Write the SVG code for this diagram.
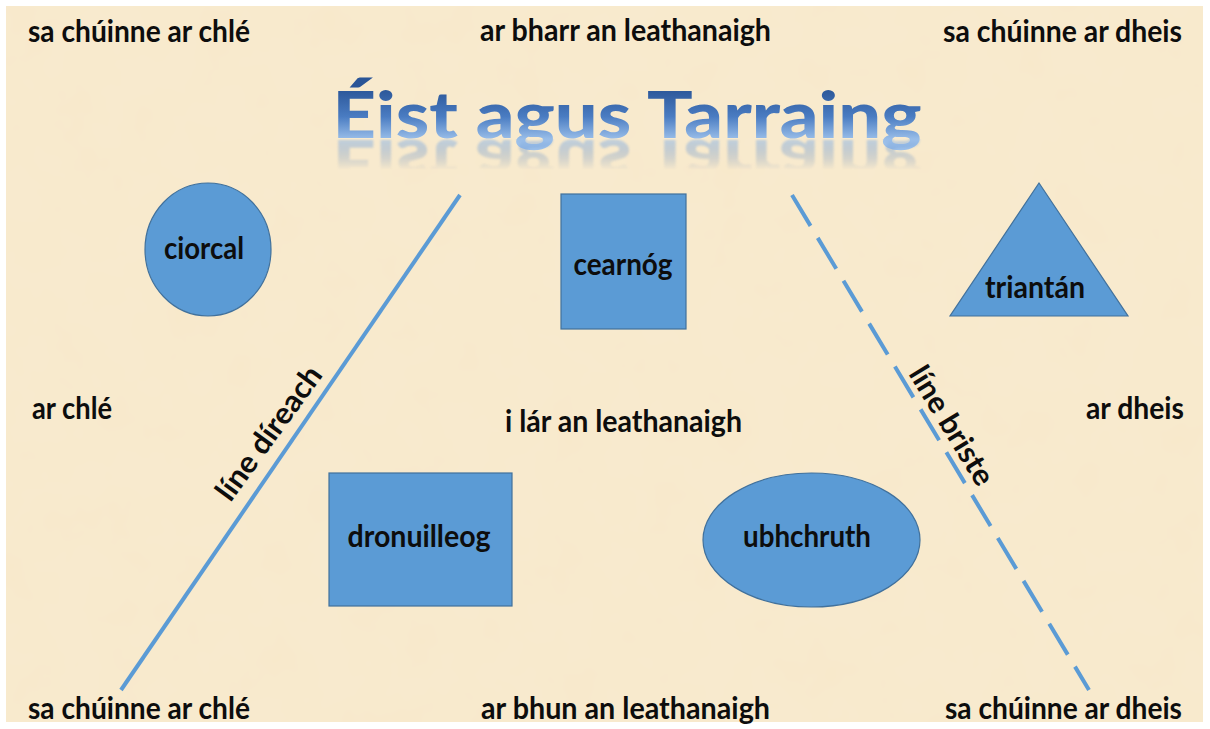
<svg xmlns="http://www.w3.org/2000/svg" xmlns:xlink="http://www.w3.org/1999/xlink" width="1210" height="729" viewBox="0 0 1210 729">
<style>
  .lbl { font-family: Lato, "Open Sans", "Liberation Sans", sans-serif; font-weight: 700; font-size: 30px; fill: #0d0d0d; }
  .shape { fill: #5b9bd5; stroke: #41719c; stroke-width: 1.2; }
  .line { stroke: #5b9bd5; stroke-width: 4; fill: none; }
  .title { font-family: Lato, "Open Sans", "Liberation Sans", sans-serif; font-weight: 900; font-size: 64px; }
</style>
<defs>
  <linearGradient id="titleGrad" gradientUnits="userSpaceOnUse" x1="0" y1="88" x2="0" y2="140">
    <stop offset="0" stop-color="#2a5597"/>
    <stop offset="0.55" stop-color="#4a7cc2"/>
    <stop offset="1" stop-color="#9cc0ea"/>
  </linearGradient>
  <linearGradient id="reflGrad" gradientUnits="userSpaceOnUse" x1="0" y1="138" x2="0" y2="170">
    <stop offset="0" stop-color="#fff" stop-opacity="0.6"/>
    <stop offset="1" stop-color="#fff" stop-opacity="0"/>
  </linearGradient>
  <mask id="reflMask" maskUnits="userSpaceOnUse" x="0" y="0" width="1210" height="729">
    <rect x="0" y="139" width="1210" height="40" fill="url(#reflGrad)"/>
  </mask>
  <filter id="blur1"><feGaussianBlur stdDeviation="1"/></filter>
  <filter id="paper" x="0" y="0" width="100%" height="100%">
    <feTurbulence type="fractalNoise" baseFrequency="0.02" numOctaves="3" seed="4" result="n"/>
    <feColorMatrix in="n" type="matrix" values="0 0 0 0 0.93  0 0 0 0 0.84  0 0 0 0 0.68  0 0 0 0.35 0" result="c"/>
    <feComposite in="c" in2="SourceGraphic" operator="atop"/>
  </filter>
</defs>
<rect x="0" y="0" width="1210" height="729" fill="#ffffff"/>
<rect x="6" y="6" width="1197" height="716" fill="#f8e9cb" filter="url(#paper)"/>

<g id="title-group">
  <text id="title" class="title" x="627" y="138" text-anchor="middle" textLength="589" lengthAdjust="spacingAndGlyphs" fill="url(#titleGrad)">Éist agus Tarraing</text>
  <g mask="url(#reflMask)">
    <use xlink:href="#title" href="#title" transform="translate(0,278) scale(1,-1)" filter="url(#blur1)"/>
  </g>
</g>

<g id="connectors">
  <line class="line" x1="460" y1="195" x2="121" y2="690"/>
  <line class="line" x1="792" y1="195" x2="1089" y2="690" stroke-dasharray="36 14"/>
</g>

<g id="line-direach-label">
  <text class="lbl" transform="translate(277,439) rotate(-54)" text-anchor="middle" textLength="158" lengthAdjust="spacingAndGlyphs">líne díreach</text>
</g>
<g id="line-briste-label">
  <text class="lbl" transform="translate(943,431) rotate(58.5)" text-anchor="middle" textLength="134" lengthAdjust="spacingAndGlyphs">líne briste</text>
</g>

<g id="ciorcal">
  <ellipse class="shape" cx="208" cy="249.5" rx="63" ry="66.5"/>
  <text class="lbl" x="204" y="259" text-anchor="middle" textLength="80" lengthAdjust="spacingAndGlyphs">ciorcal</text>
</g>
<g id="cearnog">
  <rect class="shape" x="561" y="194" width="125" height="135"/>
  <text class="lbl" x="623" y="275" text-anchor="middle" textLength="99" lengthAdjust="spacingAndGlyphs">cearnóg</text>
</g>
<g id="triantan">
  <polygon class="shape" points="1039,183 1128,316 950,316"/>
  <text class="lbl" x="1035" y="298" text-anchor="middle" textLength="100" lengthAdjust="spacingAndGlyphs">triantán</text>
</g>
<g id="dronuilleog">
  <rect class="shape" x="329" y="473" width="183" height="133"/>
  <text class="lbl" x="419" y="547" text-anchor="middle" textLength="143" lengthAdjust="spacingAndGlyphs">dronuilleog</text>
</g>
<g id="ubhchruth">
  <ellipse class="shape" cx="811.5" cy="540" rx="108.5" ry="67"/>
  <text class="lbl" x="807" y="547" text-anchor="middle" textLength="128" lengthAdjust="spacingAndGlyphs">ubhchruth</text>
</g>

<g id="positions">
  <text class="lbl" x="28" y="42" textLength="222" lengthAdjust="spacingAndGlyphs">sa chúinne ar chlé</text>
  <text class="lbl" x="480" y="41" textLength="291" lengthAdjust="spacingAndGlyphs">ar bharr an leathanaigh</text>
  <text class="lbl" x="943" y="42" textLength="239" lengthAdjust="spacingAndGlyphs">sa chúinne ar dheis</text>
  <text class="lbl" x="32" y="419" textLength="80" lengthAdjust="spacingAndGlyphs">ar chlé</text>
  <text class="lbl" x="505" y="432" textLength="237" lengthAdjust="spacingAndGlyphs">i lár an leathanaigh</text>
  <text class="lbl" x="1086" y="419" textLength="98" lengthAdjust="spacingAndGlyphs">ar dheis</text>
  <text class="lbl" x="28" y="719" textLength="222" lengthAdjust="spacingAndGlyphs">sa chúinne ar chlé</text>
  <text class="lbl" x="481" y="719" textLength="289" lengthAdjust="spacingAndGlyphs">ar bhun an leathanaigh</text>
  <text class="lbl" x="945" y="719" textLength="237" lengthAdjust="spacingAndGlyphs">sa chúinne ar dheis</text>
</g>
</svg>
